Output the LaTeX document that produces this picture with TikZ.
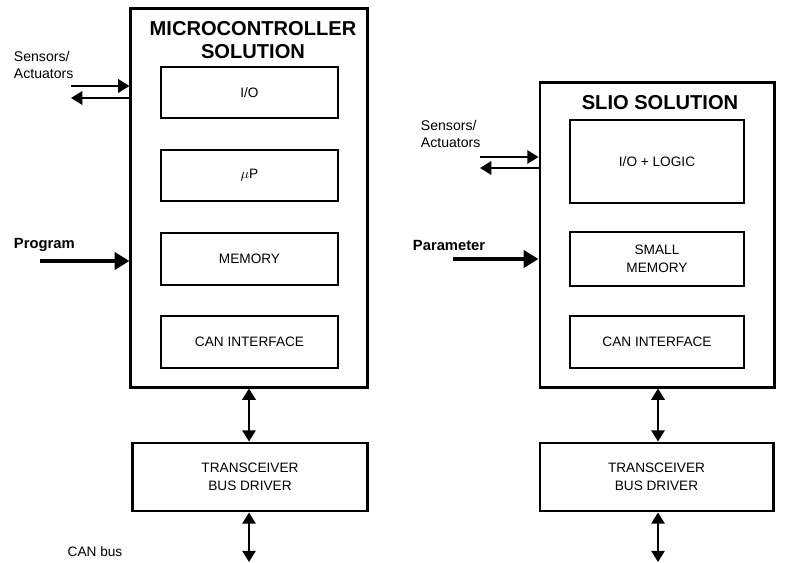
\documentclass[tikz,border=0pt]{standalone}
\usepackage{fontspec}
\setmainfont{Liberation Sans}
\usetikzlibrary{arrows.meta}

\tikzset{
    outerbox/.style={draw, line width=2.1pt, minimum width=#1, inner sep=0pt},
    innerbox/.style={draw, line width=1pt, inner sep=0pt, align=center, font=\fontsize{9.7}{13}\selectfont},
    thinarrow/.style={line width=1.4pt, -{Triangle[length=8pt, width=9.5pt]}},
    bothways/.style={line width=1.4pt, {Triangle[length=8pt, width=9.5pt]}-{Triangle[length=8pt, width=9.5pt]}},
    thickarrow/.style={line width=2.8pt, -{Triangle[length=10.5pt, width=12pt]}},
    sidelabel/.style={anchor=west, align=left, font=\fontsize{10}{12}\selectfont},
    boldlabel/.style={anchor=west, font=\bfseries\fontsize{10.5}{12}\selectfont}
}

\begin{document}
\begin{tikzpicture}[x=0.025cm, y=-0.025cm]
    \useasboundingbox (0,0) rectangle (799,563);

    % Microcontroller solution
    \node[outerbox=5.9cm, minimum height=9.45cm] (lout) at (249,198) {};
    \node[align=center, font=\bfseries\fontsize{14.3}{16.5}\selectfont] (ltitle) at (253,40) {MICROCONTROLLER\\SOLUTION};
    \node[innerbox, minimum width=4.425cm, minimum height=1.275cm] (lio) at (249.5,92.5) {I/O};
    \node[innerbox, minimum width=4.425cm, minimum height=1.275cm] (lup) at (249.5,175.5) {$\mu$P};
    \node[innerbox, minimum width=4.425cm, minimum height=1.3cm] (lmem) at (249.5,259) {MEMORY};
    \node[innerbox, minimum width=4.425cm, minimum height=1.3cm] (lcan) at (249.5,342) {CAN INTERFACE};
    \node[outerbox=5.85cm, minimum height=1.7cm, align=center, font=\fontsize{9.7}{13}\selectfont] (ltrx) at (250,477) {TRANSCEIVER\\BUS DRIVER};

    % SLIO solution
    \node[outerbox=5.85cm, minimum height=7.6cm] (rout) at (657,235) {};
    \node[font=\bfseries\fontsize{14.3}{16.5}\selectfont] (rtitle) at (660,103) {SLIO SOLUTION};
    \node[innerbox, minimum width=4.35cm, minimum height=2.075cm] (rio) at (657,161.5) {I/O + LOGIC};
    \node[innerbox, minimum width=4.35cm, minimum height=1.35cm] (rmem) at (657,259) {SMALL\\MEMORY};
    \node[innerbox, minimum width=4.35cm, minimum height=1.3cm] (rcan) at (657,342) {CAN INTERFACE};
    \node[outerbox=5.825cm, minimum height=1.7cm, align=center, font=\fontsize{9.7}{13}\selectfont] (rtrx) at (656.5,477) {TRANSCEIVER\\BUS DRIVER};

    % Inputs
    \node[sidelabel] (lsens) at (9,65) {Sensors/\\Actuators};
    \coordinate (lsin) at (71,86);
    \coordinate (lsout) at (71,98);
    \draw[thinarrow] (lsin) -- (lsin -| lout.west);
    \draw[thinarrow] (lsout -| lout.west) -- (lsout);
    \node[boldlabel] (prog) at (9,245) {Program};
    \coordinate (lprog) at (40,261);
    \draw[thickarrow] (lprog) -- (lprog -| lout.west);

    \node[sidelabel] (rsens) at (416,134) {Sensors/\\Actuators};
    \coordinate (rsin) at (480,157);
    \coordinate (rsout) at (480,168);
    \draw[thinarrow] (rsin) -- (rsin -| rout.west);
    \draw[thinarrow] (rsout -| rout.west) -- (rsout);
    \node[boldlabel] (param) at (408,245) {Parameter};
    \coordinate (rparam) at (453,259);
    \draw[thickarrow] (rparam) -- (rparam -| rout.west);

    % Bus connections
    \coordinate (lbus) at (249,562);
    \coordinate (rbus) at (658,562);
    \draw[bothways] (lout.south -| lbus) -- (ltrx.north -| lbus);
    \draw[bothways] (ltrx.south -| lbus) -- (lbus);
    \draw[bothways] (rout.south -| rbus) -- (rtrx.north -| rbus);
    \draw[bothways] (rtrx.south -| rbus) -- (rbus);
    \node[font=\fontsize{9.7}{12}\selectfont] (canbus) at (95,552) {CAN bus};
\end{tikzpicture}
\end{document}
